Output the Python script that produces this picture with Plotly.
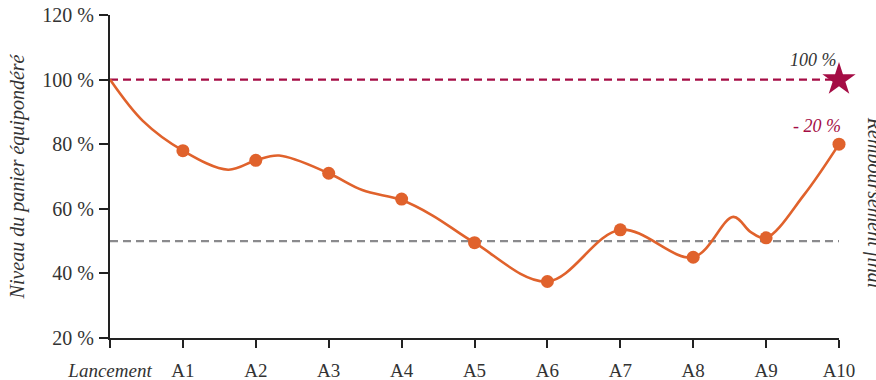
import plotly.graph_objects as go

# Categories and tick labels
categories = ["Lancement", "A1", "A2", "A3", "A4", "A5", "A6", "A7", "A8", "A9", "A10"]
tick_labels = ["<i>Lancement</i>", "A1", "A2", "A3", "A4", "A5", "A6", "A7", "A8", "A9", "A10"]
y_ticks = [20, 40, 60, 80, 100, 120]

# Observed basket level at each observation date (markers)
obs_x = [1, 2, 3, 4, 5, 6, 7, 8, 9, 10]
obs_values = [78, 75, 71, 63, 49.5, 37.5, 53.5, 45, 51, 80]

# Underlying trajectory of the basket
path_x = [0, 0.45, 1, 1.62, 2, 2.32, 3, 3.46, 4, 4.42, 5, 6, 7, 8, 8.55, 8.79, 9, 9.52, 10]
path_values = [100, 87.2, 78, 72.1, 75, 76.5, 71, 65.8, 62.7, 58.0, 49.5, 37.5, 53.5, 45, 57.5, 52.8, 51, 64.3, 80]

# Reference levels
capital_level = 100
barrier_level = 50

ORANGE = "#E0622C"
CRIMSON = "#A50D45"
GRAY = "#8A8A8D"
TEXT = "#333333"
FONT = "Liberation Serif"

fig = go.Figure()

fig.add_trace(go.Scatter(
    x=[0, 10], y=[barrier_level, barrier_level], mode="lines",
    line=dict(color=GRAY, width=2.2, dash="8px,5px"), hoverinfo="skip", showlegend=False))
fig.add_trace(go.Scatter(
    x=[0, 10], y=[capital_level, capital_level], mode="lines",
    line=dict(color=CRIMSON, width=2.2, dash="8px,5px"), hoverinfo="skip", showlegend=False))

fig.add_trace(go.Scatter(
    x=path_x, y=path_values, mode="lines",
    line=dict(color=ORANGE, width=2.6, shape="spline", smoothing=1.0),
    showlegend=False, cliponaxis=False))
fig.add_trace(go.Scatter(
    x=obs_x, y=obs_values, mode="markers",
    marker=dict(color=ORANGE, size=13), showlegend=False, cliponaxis=False))

fig.add_trace(go.Scatter(
    x=[10], y=[capital_level], mode="markers",
    marker=dict(color=CRIMSON, size=25, symbol="star"), showlegend=False, cliponaxis=False))

fig.add_annotation(x=10, y=capital_level, xref="x", yref="y", text="<i>100 %</i>",
                   showarrow=False, xanchor="right", yanchor="bottom", xshift=0, yshift=8,
                   font=dict(family=FONT, size=18, color=TEXT))
fig.add_annotation(x=10, y=obs_values[-1], xref="x", yref="y", text="<i>- 20 %</i>",
                   showarrow=False, xanchor="right", yanchor="bottom", xshift=4, yshift=6,
                   font=dict(family=FONT, size=18, color=CRIMSON))
fig.add_annotation(x=1, y=0.42, xref="paper", yref="paper", text="<i>Remboursement final</i>",
                   showarrow=False, textangle=90, xanchor="left", yanchor="middle", xshift=22,
                   font=dict(family=FONT, size=20, color=TEXT))

fig.update_layout(
    width=876, height=380,
    margin=dict(l=110, r=37, t=15, b=42),
    paper_bgcolor="white", plot_bgcolor="white",
    font=dict(family=FONT, size=18, color=TEXT),
    xaxis=dict(
        range=[0, 10], tickmode="array", tickvals=list(range(len(categories))), ticktext=tick_labels,
        showgrid=False, zeroline=False, showline=True, linecolor="#222222", linewidth=2,
        ticks="outside", ticklen=8, tickwidth=2, tickcolor="#222222", automargin=False,
        ticklabelstandoff=6,
        tickfont=dict(family=FONT, size=19, color=TEXT),
    ),
    yaxis=dict(
        range=[20, 120], tickmode="array", tickvals=y_ticks, ticktext=[f"{v} %" for v in y_ticks],
        showgrid=False, zeroline=False, showline=True, linecolor="#222222", linewidth=2,
        ticks="outside", ticklen=9, tickwidth=2, tickcolor="#222222", automargin=False,
        ticklabelstandoff=1,
        tickfont=dict(family=FONT, size=20, color=TEXT),
        title=dict(text="<i>Niveau du panier équipondéré</i>", font=dict(family=FONT, size=20, color=TEXT), standoff=12),
    ),
)

fig.write_html("out.html")
